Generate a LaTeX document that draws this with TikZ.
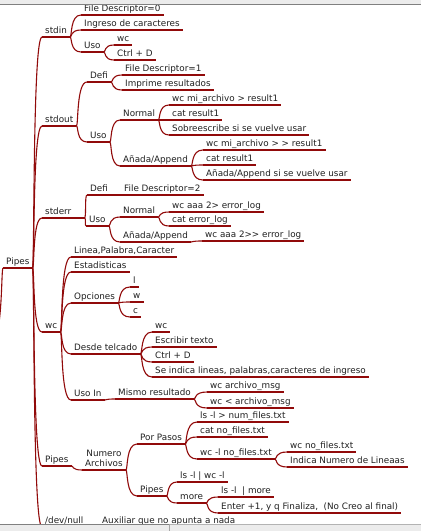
\documentclass[tikz,border=0pt]{standalone}
\usepackage{fontspec}
\setmainfont{DejaVu Sans}
\usetikzlibrary{calc}
\definecolor{edgered}{RGB}{145,10,10}
\definecolor{ink}{RGB}{32,32,32}
\definecolor{barfill}{RGB}{236,236,236}
\definecolor{barline}{RGB}{128,128,128}
\tikzset{
  topicbase/.style={anchor=south west, inner xsep=3pt, inner ysep=1.5pt,
    font=\fontsize{8.8}{10}\selectfont, text=ink},
  topic/.style={topicbase, text height=6.4pt, text depth=2.2pt},
  edge/.style={draw=edgered, line width=1.1pt},
}
\begin{document}
\begin{tikzpicture}[x=1pt,y=-1pt]
\useasboundingbox (0,0) rectangle (421,531);
\clip (0,0) rectangle (421,531);
\fill[white] (0,0) rectangle (421,531);

% root and first level
\node[topic] (root) at (3,268) {Pipes};
\node[topic] (stdin) at (42,37) {stdin};
\node[topic] (stdout) at (42,126) {stdout};
\node[topic] (stderr) at (42,218) {stderr\hspace*{10pt}};
\node[topic] (wcn) at (42,332) {wc};
\node[topic] (pipesA) at (42,466) {Pipes};
\node[topic] (devnull) at (42,527) {/dev/null};

% stdin
\node[topic] (fdzero) at (81,15) {File Descriptor=0};
\node[topic] (ingreso) at (81,30) {Ingreso de caracteres};
\node[topic] (usoA) at (81,52) {Uso};
\node[topic] (wcA) at (114,45) {wc};
\node[topic] (ctrlA) at (114,60) {Ctrl + D};

% stdout
\node[topic] (defiA) at (87,82) {Defi};
\node[topic] (fdone) at (122,75) {File Descriptor=1};
\node[topic] (imprime) at (122,90) {Imprime resultados};
\node[topic] (usoB) at (87,142) {Uso};
\node[topic] (normalA) at (120,120) {Normal};
\node[topic] (redirA) at (169,105) {wc mi\_archivo > result1};
\node[topic] (catA) at (169,120) {cat result1};
\node[topic] (sobre) at (169,135) {Sobreescribe si se vuelve usar};
\node[topic] (appendA) at (120,166) {Añada/Append};
\node[topic] (redirB) at (203,150) {wc mi\_archivo > > result1};
\node[topic] (catB) at (203,165) {cat result1};
\node[topic] (appendTxt) at (203,180) {Añada/Append si se vuelve usar};

% stderr
\node[topic] (defiB) at (87,195) {Defi};
\node[topic] (fdtwo) at (121,195) {File Descriptor=2};
\node[topic] (usoC) at (86,226) {Uso};
\node[topic] (normalB) at (120,217) {Normal};
\node[topic] (errA) at (169,212) {wc aaa 2> error\_log};
\node[topic] (errcat) at (169,226) {cat error\_log};
\node[topic] (appendB) at (120,242) {Añada/Append};
\node[topic] (errB) at (202,241) {wc aaa 2>{}> error\_log};

% wc
\node[topic] (lpc) at (71,257) {Linea,Palabra,Caracter};
\node[topic] (estad) at (71,272) {Estadisticas};
\node[topic] (opciones) at (71,303) {Opciones};
\node[topic] (optl) at (130,287) {l};
\node[topic] (optw) at (130,302) {w};
\node[topic] (optc) at (130,317) {c};
\node[topic] (desde) at (71,354) {Desde telcado};
\node[topic] (wcB) at (152,332) {wc};
\node[topic] (escribir) at (152,347) {Escribir texto};
\node[topic] (ctrlB) at (152,362) {Ctrl + D};
\node[topic] (seindica) at (152,377) {Se indica lineas, palabras,caracteres de ingreso};
\node[topic] (usoin) at (71,400) {Uso In};
\node[topic] (mismo) at (115,399) {Mismo resultado};
\node[topic] (msgA) at (207,392) {wc archivo\_msg};
\node[topic] (msgB) at (207,408) {wc < archivo\_msg};

% pipes
\node[topicbase, align=center] (numarch) at (82,470) {Numero\\Archivos\rule[-2.2pt]{0pt}{1pt}};
\node[topic] (porpasos) at (137,444) {Por Pasos};
\node[topic] (lsA) at (197,422) {ls -l > num\_files.txt};
\node[topic] (catC) at (197,437) {cat no\_files.txt};
\node[topic] (wcl) at (197,459) {wc -l no\_files.txt};
\node[topic] (wcfiles) at (287,452) {wc no\_files.txt};
\node[topic] (indica) at (287,467) {Indica Numero de Lineaas};
\node[topic] (pipesB) at (137,496) {Pipes};
\node[topic] (lspipe) at (177,482) {ls -l | wc -l};
\node[topic] (more) at (177,503) {more};
\node[topic] (lsmore) at (218,497) {ls -l \ | more};
\node[topic] (enter) at (218,513) {Enter +1, y q Finaliza,\ \ (No Creo al final)};

% /dev/null
\node[topic] (auxiliar) at (99,527) {Auxiliar que no apunta a nada};

% underlines of every topic
\foreach \n in {root,stdin,stdout,stderr,wcn,pipesA,devnull,
  fdzero,ingreso,usoA,wcA,ctrlA,
  defiA,fdone,imprime,usoB,normalA,redirA,catA,sobre,appendA,redirB,catB,appendTxt,
  defiB,fdtwo,usoC,normalB,errA,errcat,appendB,errB,
  lpc,estad,opciones,optl,optw,optc,desde,wcB,escribir,ctrlB,seindica,usoin,mismo,msgA,msgB,
  numarch,porpasos,lsA,catC,wcl,wcfiles,indica,pipesB,lspipe,more,lsmore,enter,auxiliar}
  {\draw[edge] (\n.south west) -- (\n.south east);}

% branches from parent to child
\foreach \p/\c in {root/stdin,root/stdout,root/stderr,root/wcn,root/pipesA,root/devnull,
  stdin/fdzero,stdin/ingreso,stdin/usoA,usoA/wcA,usoA/ctrlA,
  stdout/defiA,stdout/usoB,defiA/fdone,defiA/imprime,usoB/normalA,usoB/appendA,
  normalA/redirA,normalA/catA,normalA/sobre,appendA/redirB,appendA/catB,appendA/appendTxt,
  stderr/defiB,stderr/usoC,defiB/fdtwo,usoC/normalB,usoC/appendB,normalB/errA,normalB/errcat,appendB/errB,
  wcn/lpc,wcn/estad,wcn/opciones,wcn/desde,wcn/usoin,opciones/optl,opciones/optw,opciones/optc,
  desde/wcB,desde/escribir,desde/ctrlB,desde/seindica,usoin/mismo,mismo/msgA,mismo/msgB,
  pipesA/numarch,numarch/porpasos,numarch/pipesB,porpasos/lsA,porpasos/catC,porpasos/wcl,
  wcl/wcfiles,wcl/indica,pipesB/lspipe,pipesB/more,more/lsmore,more/enter,devnull/auxiliar}
  {\draw[edge] (\p.south east) .. controls ($(\p.south east)+(2,0)$) and (\p.south east |- \c.south west) .. (\c.south west);}

% branch leaving the root towards the left edge
\coordinate (offleft) at (-10,345);
\draw[edge] (root.south west) .. controls ($(root.south west)+(-2,0)$) and (root.south west |- offleft) .. (offleft);

% window frame strips
\fill[barfill] (0,0) rectangle (421,4);
\draw[barline, line width=0.8pt] (0,4) -- (421,4);
\fill[barfill] (0,524) rectangle (421,531);
\draw[barline, line width=0.8pt] (0,524) -- (169,524);
\draw[barline!60, line width=0.8pt] (169,524) -- (421,524);
\draw[barline!70, line width=0.8pt] (169,524) -- (169,531);
\end{tikzpicture}
\end{document}
